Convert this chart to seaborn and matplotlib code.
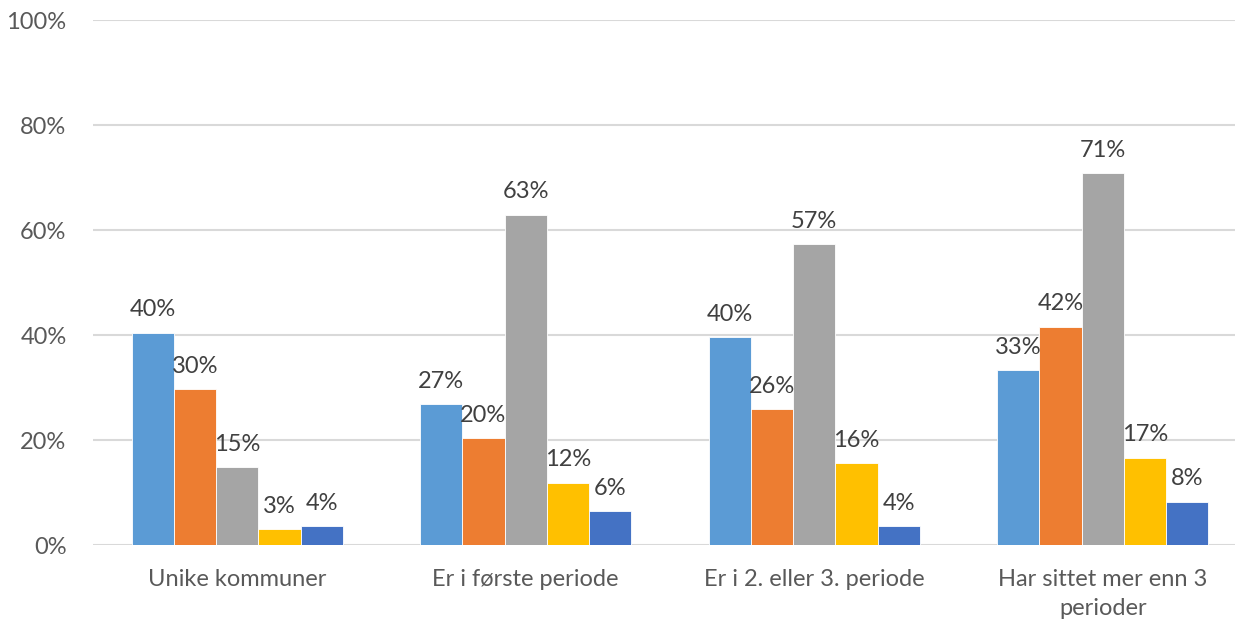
import matplotlib
matplotlib.use("Agg")
import matplotlib.pyplot as plt
from matplotlib.ticker import PercentFormatter
import pandas as pd
import seaborn as sns

# Categories along the x axis
kategorier = [
    "Unike kommuner",
    "Er i første periode",
    "Er i 2. eller 3. periode",
    "Har sittet mer enn 3\nperioder",
]

# Series names (legend is not shown)
serier = ["Serie 1", "Serie 2", "Serie 3", "Serie 4", "Serie 5"]

# Share (%) per series, one value per category
serie_1 = [40.4, 26.8, 39.6, 33.3]
serie_2 = [29.7, 20.3, 25.9, 41.6]
serie_3 = [14.8, 62.9, 57.3, 70.8]
serie_4 = [3.0, 11.9, 15.6, 16.6]
serie_5 = [3.6, 6.4, 3.6, 8.2]

farger = ["#5B9BD5", "#ED7D31", "#A5A5A5", "#FFC000", "#4472C4"]

rows = []
for navn, verdier in zip(serier, [serie_1, serie_2, serie_3, serie_4, serie_5]):
    for kat, v in zip(kategorier, verdier):
        rows.append({"kategori": kat, "serie": navn, "verdi": v / 100})
df = pd.DataFrame(rows)

sns.set_theme(style="white")
plt.rcParams["font.family"] = ["Lato", "DejaVu Sans"]

fig = plt.figure(figsize=(12.35, 6.24), dpi=100)
ax = fig.add_axes([0.0753, 0.1266, 0.9344, 0.8413])

sns.barplot(
    data=df, x="kategori", y="verdi", hue="serie",
    order=kategorier, hue_order=serier, palette=farger,
    width=0.733, gap=0, saturation=1, legend=False,
    edgecolor="white", linewidth=0.6, ax=ax,
)

for cont in ax.containers:
    etiketter = [f"{b.get_height() * 100:.0f}%" for b in cont]
    ax.bar_label(cont, labels=etiketter, padding=9, fontsize=17, color="#404040")

ax.set_ylim(0, 1)
ax.set_yticks([0, 0.2, 0.4, 0.6, 0.8, 1.0])
ax.yaxis.set_major_formatter(PercentFormatter(1.0, decimals=0))
ax.grid(axis="y", color="#D9D9D9", linewidth=1.5)
ax.set_axisbelow(True)
for s in ax.spines.values():
    s.set_visible(False)

ax.set_xlabel("")
ax.set_ylabel("")
ax.tick_params(axis="y", length=0, pad=19, labelsize=17, labelcolor="#595959")
ax.tick_params(axis="x", length=0, pad=17, labelsize=17, labelcolor="#595959")
for t in ax.get_xticklabels():
    t.set_linespacing(1.5)

fig.savefig("out.png", dpi=100)
